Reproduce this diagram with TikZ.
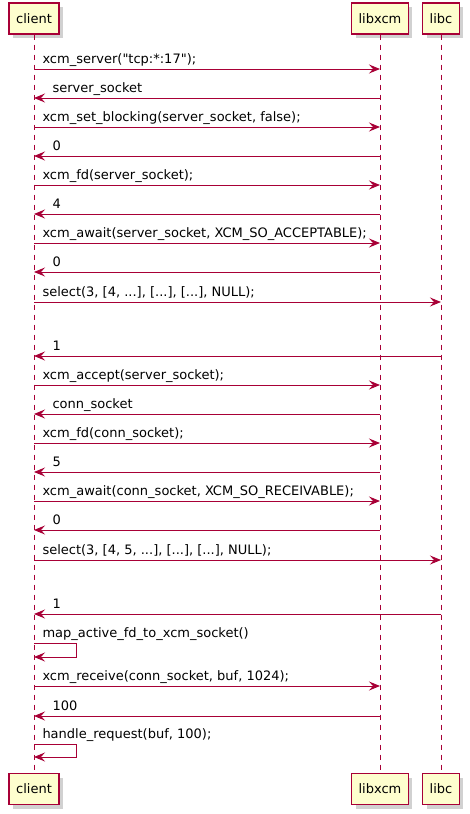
\documentclass[tikz,border=0pt]{standalone}
\usepackage{fontspec}
\setmainfont{DejaVu Sans}[Ligatures=TeXOff]
\usetikzlibrary{arrows.meta,shadows}
\definecolor{umlred}{HTML}{A80036}
\definecolor{umlfill}{HTML}{FEFECE}
\tikzset{
	actor/.style={draw=umlred, line width=1.3pt, fill=umlfill, minimum height=31pt, inner xsep=7pt,
		font=\fontsize{13}{15}\selectfont,
		drop shadow={shadow xshift=4pt, shadow yshift=-4pt, fill=black!60, opacity=0.3}},
	life/.style={umlred, line width=0.9pt, dash pattern=on 5pt off 5pt},
	msg/.style={umlred, line width=1pt, -{Stealth[length=11pt,width=9pt,inset=4pt]}},
	lbl/.style={font=\fontsize{13}{15}\selectfont, inner sep=0pt, text=black, anchor=base west, yshift=5.5pt},
	callto/.style={lbl, xshift=8pt},
	retto/.style={lbl, xshift=18pt},
}

\begin{document}
\begin{tikzpicture}[x=1pt,y=-1pt]
	\useasboundingbox (0,0) rectangle (469,814);
	% participants
	\node[actor] (client) at (34,18.5) {client};
	\node[actor] (libxcm) at (380,18.5) {libxcm};
	\node[actor] (libc) at (441,18.5) {libc};
	\node[actor] (clientB) at (34,789) {client};
	\node[actor] (libxcmB) at (380,789) {libxcm};
	\node[actor] (libcB) at (441,789) {libc};
	\draw[life] (client) -- (clientB);
	\draw[life] (libxcm) -- (libxcmB);
	\draw[life] (libc) -- (libcB);
	% message rows
	\foreach \i/\y in {1/69,2/98,3/127,4/156,5/185,6/214,7/243,8/272,9/302,10/356,
		11/385,12/414,13/443,14/472,15/501,16/530,17/560,18/614,19/643,19b/657,
		20/686,21/716,22/744,22b/757}
		\coordinate (m\i) at (0,\y);
	% messages
	\draw[msg] (client |- m1) -- (libxcm |- m1) node[callto, at start]{xcm\_server("tcp:*:17");};
	\draw[msg] (libxcm |- m2) -- (client |- m2) node[retto, at end]{server\_socket};
	\draw[msg] (client |- m3) -- (libxcm |- m3) node[callto, at start]{xcm\_set\_blocking(server\_socket, false);};
	\draw[msg] (libxcm |- m4) -- (client |- m4) node[retto, at end]{0};
	\draw[msg] (client |- m5) -- (libxcm |- m5) node[callto, at start]{xcm\_fd(server\_socket);};
	\draw[msg] (libxcm |- m6) -- (client |- m6) node[retto, at end]{4};
	\draw[msg] (client |- m7) -- (libxcm |- m7) node[callto, at start]{xcm\_await(server\_socket, XCM\_SO\_ACCEPTABLE);};
	\draw[msg] (libxcm |- m8) -- (client |- m8) node[retto, at end]{0};
	\draw[msg] (client |- m9) -- (libc |- m9) node[callto, at start]{select(3, [4, ...], [...], [...], NULL);};
	\draw[msg] (libc |- m10) -- (client |- m10) node[retto, at end]{1};
	\draw[msg] (client |- m11) -- (libxcm |- m11) node[callto, at start]{xcm\_accept(server\_socket);};
	\draw[msg] (libxcm |- m12) -- (client |- m12) node[retto, at end]{conn\_socket};
	\draw[msg] (client |- m13) -- (libxcm |- m13) node[callto, at start]{xcm\_fd(conn\_socket);};
	\draw[msg] (libxcm |- m14) -- (client |- m14) node[retto, at end]{5};
	\draw[msg] (client |- m15) -- (libxcm |- m15) node[callto, at start]{xcm\_await(conn\_socket, XCM\_SO\_RECEIVABLE);};
	\draw[msg] (libxcm |- m16) -- (client |- m16) node[retto, at end]{0};
	\draw[msg] (client |- m17) -- (libc |- m17) node[callto, at start]{select(3, [4, 5, ...], [...], [...], NULL);};
	\draw[msg] (libc |- m18) -- (client |- m18) node[retto, at end]{1};
	\draw[msg] (client |- m19) node[callto]{map\_active\_fd\_to\_xcm\_socket()} -- ++(42,0) |- (client |- m19b);
	\draw[msg] (client |- m20) -- (libxcm |- m20) node[callto, at start]{xcm\_receive(conn\_socket, buf, 1024);};
	\draw[msg] (libxcm |- m21) -- (client |- m21) node[retto, at end]{100};
	\draw[msg] (client |- m22) node[callto]{handle\_request(buf, 100);} -- ++(42,0) |- (client |- m22b);
\end{tikzpicture}
\end{document}
